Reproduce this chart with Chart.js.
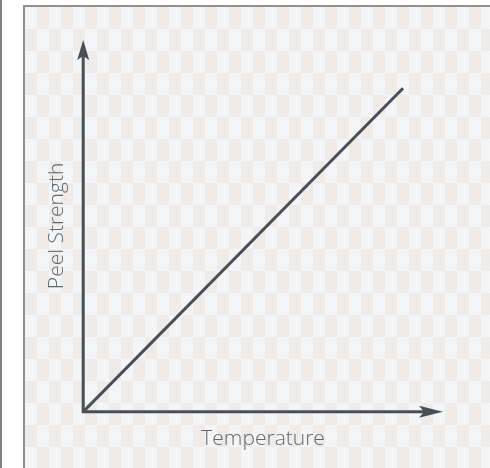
<!DOCTYPE html>
<html>
<head>
<meta charset="utf-8">
<script src="https://cdn.jsdelivr.net/npm/chart.js@4"></script>
<style>
  html, body { margin: 0; padding: 0; background: #fff; }
  #wrap { position: relative; width: 490px; height: 468px; overflow: hidden; }
  #rule { position: absolute; left: 0; top: 0; width: 2px; height: 468px; background: #7d8086; }
  #frame {
    position: absolute; left: 23px; top: 5px; width: 480px; height: 480px;
    border-left: 2px solid #8c8f94; border-top: 2px solid #8c8f94;
    background-color: #f4f5f6;
    background-image: conic-gradient(#efebe9 25%, transparent 0 50%, #efebe9 0 75%, transparent 0);
    background-size: 24px 44px;
  }
  #chart { position: absolute; left: 0; top: 0; }
</style>
</head>
<body>
<div id="wrap">
  <div id="rule"></div>
  <div id="frame"></div>
  <canvas id="chart" width="490" height="468"></canvas>
</div>
<script>
// conceptual line: peel strength rises steadily with temperature
const temperature = [0, 1];
const peelStrength = [0, 1];
const xTitle = 'Temperature';
const yTitle = 'Peel Strength';

const ink = '#4a4e56';

// axes drawn as arrows from the chart area corner
const arrowAxes = {
  id: 'arrowAxes',
  afterDatasetsDraw(chart) {
    const { ctx, chartArea: a } = chart;
    ctx.save();
    ctx.strokeStyle = ink;
    ctx.fillStyle = ink;
    ctx.lineWidth = 3;
    ctx.beginPath();
    ctx.moveTo(a.left, a.top + 10);
    ctx.lineTo(a.left, a.bottom);
    ctx.lineTo(a.right - 10, a.bottom);
    ctx.stroke();
    // y arrow head
    ctx.beginPath();
    ctx.moveTo(a.left, a.top);
    ctx.lineTo(a.left - 6, a.top + 20);
    ctx.lineTo(a.left, a.top + 16);
    ctx.lineTo(a.left + 6, a.top + 20);
    ctx.closePath();
    ctx.fill();
    // x arrow head
    ctx.beginPath();
    ctx.moveTo(a.right, a.bottom);
    ctx.lineTo(a.right - 24, a.bottom - 6);
    ctx.lineTo(a.right - 19, a.bottom);
    ctx.lineTo(a.right - 24, a.bottom + 6);
    ctx.closePath();
    ctx.fill();
    ctx.restore();
  }
};

const titleFont = { family: "'Open Sans', 'Noto Sans', sans-serif", size: 21, weight: 300 };

new Chart(document.getElementById('chart'), {
  type: 'line',
  data: {
    datasets: [{
      data: temperature.map((t, i) => ({ x: t, y: peelStrength[i] })),
      borderColor: ink,
      borderWidth: 3,
      pointRadius: 0,
      tension: 0
    }]
  },
  options: {
    responsive: false,
    animation: false,
    layout: { padding: { left: 44, top: 40, right: 47, bottom: 16 } },
    plugins: { legend: { display: false }, tooltip: { enabled: false } },
    scales: {
      x: {
        type: 'linear', min: 0, max: 1.125,
        ticks: { display: false },
        grid: { display: false, drawTicks: false },
        border: { display: false },
        title: { display: true, text: xTitle, color: '#63676e', font: titleFont, padding: { top: 15, bottom: 0 } }
      },
      y: {
        type: 'linear', min: 0, max: 1.149,
        ticks: { display: false },
        grid: { display: false, drawTicks: false },
        border: { display: false },
        title: { display: true, text: yTitle, color: '#63676e', font: titleFont, padding: { top: 0, bottom: 14 } }
      }
    }
  },
  plugins: [arrowAxes]
});
</script>
</body>
</html>
